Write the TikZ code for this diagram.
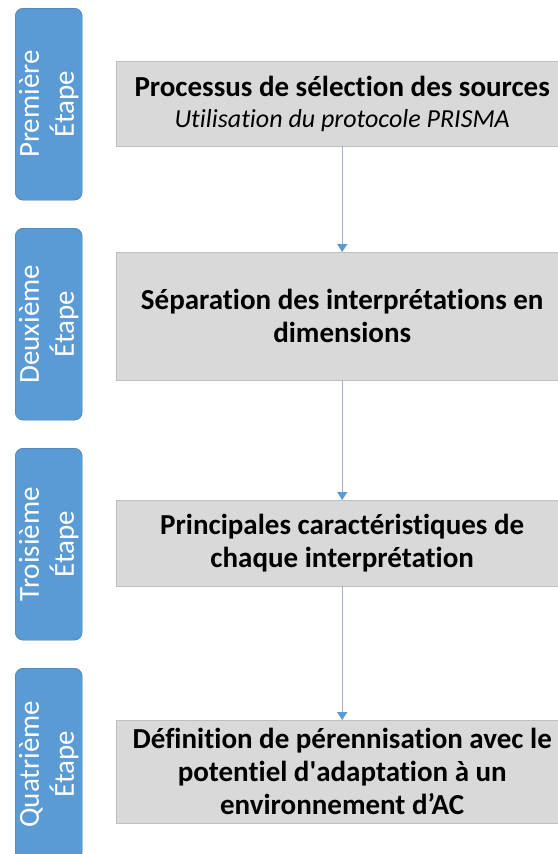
\documentclass[tikz,border=0pt]{standalone}
\usepackage{fontspec}
\setmainfont{Carlito}[Ligatures={NoCommon}]
\usetikzlibrary{arrows.meta}
\usetikzlibrary{positioning}
\definecolor{stepblue}{HTML}{5B9BD5}
\definecolor{stepedge}{HTML}{41719C}
\definecolor{boxgray}{HTML}{D9D9D9}
\definecolor{boxedge}{HTML}{BFBFBF}
\definecolor{linkline}{HTML}{9DB3CF}
\tikzstyle{stage tab}=[draw=stepedge, fill=stepblue, rounded corners=8pt, minimum width=67pt, minimum height=192pt, anchor=north west, inner sep=0pt]
\tikzstyle{stage label}=[text=white, rotate=90, align=center, font=\fontsize{29}{35}\selectfont]
\tikzstyle{task box}=[draw=boxedge, fill=boxgray, minimum width=452pt, anchor=north west, inner sep=0pt, align=center, font=\fontsize{29}{33}\selectfont\bfseries]
\tikzstyle{link}=[draw=linkline, line width=1.4pt, -{Triangle[width=10pt,length=8pt,color=stepblue]}]

\begin{document}
\begin{tikzpicture}[x=1pt, y=-1pt]
          \useasboundingbox (0, 0) rectangle (557, 854);

          \node[stage tab] (tab1) at (15, 8) {};
          \node[stage tab] (tab2) at (15, 228) {};
          \node[stage tab] (tab3) at (15, 448) {};
          \node[stage tab] (tab4) at (15, 668) {};
          \node[stage label] (lab1) at (tab1.center) {Première\\Étape};
          \node[stage label] (lab2) at (tab2.center) {Deuxième\\Étape};
          \node[stage label] (lab3) at (tab3.center) {Troisième\\Étape};
          \node[stage label] (lab4) at (tab4.center) {Quatrième\\Étape};

          \node[task box, minimum height=85pt] (task1) at (116, 61)
            {Processus de sélection des sources\\[-2pt]
             {\mdseries\itshape\fontsize{26}{31}\selectfont Utilisation du protocole PRISMA}};
          \node[task box, minimum height=128pt] (task2) at (116, 252)
            {Séparation des interprétations en\\dimensions};
          \node[task box, minimum height=86pt] (task3) at (116, 500)
            {Principales caractéristiques de\\chaque interprétation};
          \node[task box, minimum height=103pt] (task4) at (116, 720)
            {Définition de pérennisation avec le\\potentiel d\textquotesingle adaptation à un\\environnement d’AC};

          \draw[link] (task1) -- (task2);
          \draw[link] (task2) -- (task3);
          \draw[link] (task3) -- (task4);

          % \draw[help lines] (0, 0) grid[step=50] (557, 854);
        \end{tikzpicture}
\end{document}
